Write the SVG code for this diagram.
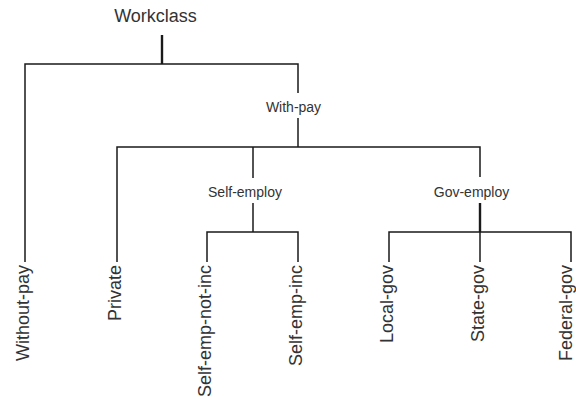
<svg xmlns="http://www.w3.org/2000/svg" width="576" height="407" viewBox="0 0 576 407">
  <style>
    .lbl { font-family: "Liberation Sans", Arial, sans-serif; fill: #333; }
    .root { font-size: 18px; text-anchor: middle; }
    .inner { font-size: 14px; text-anchor: middle; }
    .leaf { font-size: 18px; text-anchor: end; }
    .edge { fill: none; stroke: #1a1a1a; stroke-width: 1.5; stroke-linecap: butt; }
    .stem { fill: none; stroke: #1a1a1a; stroke-width: 2.4; }
  </style>
  <rect width="576" height="407" fill="#fff"/>

  <!-- tree edges -->
  <g id="connectors">
    <!-- Workclass -->
    <line class="stem" x1="162" y1="35" x2="162" y2="64"/>
    <polyline class="edge" points="25,262 25,64 298,64 298,93"/>
    <!-- With-pay -->
    <line class="edge" x1="298" y1="118" x2="298" y2="147"/>
    <polyline class="edge" points="117,262 117,147 480,147 480,177"/>
    <line class="edge" x1="253" y1="147" x2="253" y2="178"/>
    <!-- Self-employ -->
    <line class="edge" x1="253" y1="203" x2="253" y2="232"/>
    <polyline class="edge" points="207,262 207,232 298,232 298,262"/>
    <!-- Gov-employ -->
    <line class="stem" x1="480" y1="203" x2="480" y2="232"/>
    <polyline class="edge" points="389,262 389,232 571,232 571,262"/>
    <line class="edge" x1="480" y1="232" x2="480" y2="262"/>
  </g>

  <g id="workclass"><text class="lbl root" x="155.5" y="22">Workclass</text></g>
  <g id="with-pay"><text class="lbl inner" x="293.5" y="112">With-pay</text></g>
  <g id="self-employ"><text class="lbl inner" x="245" y="197">Self-employ</text></g>
  <g id="gov-employ"><text class="lbl inner" x="471.5" y="197">Gov-employ</text></g>

  <g id="without-pay"><text class="lbl leaf" transform="translate(29,265) rotate(-90)">Without-pay</text></g>
  <g id="private"><text class="lbl leaf" transform="translate(121,265) rotate(-90)">Private</text></g>
  <g id="self-emp-not-inc"><text class="lbl leaf" transform="translate(211,265) rotate(-90)">Self-emp-not-inc</text></g>
  <g id="self-emp-inc"><text class="lbl leaf" transform="translate(302,265) rotate(-90)">Self-emp-inc</text></g>
  <g id="local-gov"><text class="lbl leaf" transform="translate(393,265) rotate(-90)">Local-gov</text></g>
  <g id="state-gov"><text class="lbl leaf" transform="translate(484,265) rotate(-90)">State-gov</text></g>
  <g id="federal-gov"><text class="lbl leaf" transform="translate(571.5,265) rotate(-90)">Federal-gov</text></g>
</svg>
